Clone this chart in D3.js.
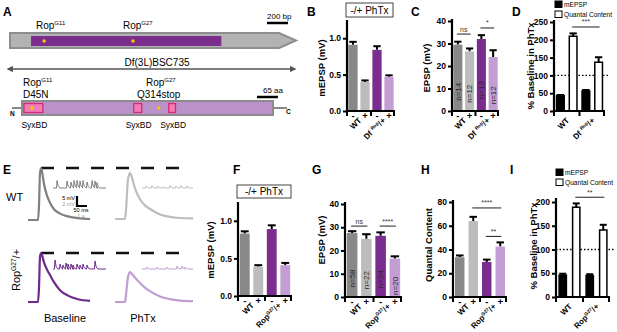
<!DOCTYPE html>
<html>
<head>
<meta charset="utf-8">
<script src="https://cdn.jsdelivr.net/npm/d3@7"></script>
<style>
  body { margin: 0; background: #fff; }
  svg { display: block; font-family: "Liberation Sans", Arial, Helvetica, sans-serif; }
</style>
</head>
<body>
<div id="fig"></div>
<script>
// ---- data ----
const conditions = ["-", "+", "-", "+"];

const mepspB = [0.91, 0.40, 0.84, 0.47];
const mepspBErr = [0.04, 0.02, 0.05, 0.02];
const epspC = [29.5, 26.5, 32.0, 24.0];
const epspCErr = [1.3, 1.3, 1.7, 3.0];
const epspCN = ["n=14", "n=12", "n=13", "n=12"];
const pctD = [43, 210, 56, 137];
const pctDErr = [2, 8, 3, 14];

const mepspF = [0.83, 0.39, 0.89, 0.41];
const mepspFErr = [0.03, 0.02, 0.05, 0.03];
const epspG = [27.5, 25.0, 26.3, 16.5];
const epspGErr = [0.8, 2.0, 1.5, 1.0];
const epspGN = ["n=58", "n=22", "n=24", "n=20"];
const qcH = [33.5, 64.0, 29.5, 42.5];
const qcHErr = [1.5, 3.5, 2.0, 3.5];
const pctI = [46, 189, 45, 141];
const pctIErr = [3, 8, 3, 11];

const ticksMepsp = [0, 0.5, 1.0];
const ticksEpsp = [0, 10, 20, 30, 40];
const ticksPctD = [0, 50, 100, 150, 200, 250];
const ticksPctI = [0, 50, 100, 150, 200];
const ticksQC = [0, 20, 40, 60, 80];

// gene / protein diagram (bp and aa)
const geneLength = 2720, geneArrowStart = 2560;
const geneCds = [200, 2010];
const geneMutations = [325, 1170];
const proteinLength = 780;
const syxbdDomains = [[6, 65], [347, 372], [456, 477]];
const proteinMutations = [31, 425];

// EPSP traces (ms, mV)
const timeBase = [0, 50, 55, 60, 65, 70, 80, 95, 110, 130, 160, 200, 250, 310];
const timePhtx = [0, 50, 55, 65, 75, 85, 100, 125, 150, 175, 225, 275, 325, 390];
const wtBase = [0, 0, 7.2, 23.4, 26, 24.3, 18, 12.2, 8.6, 5.4, 3.2, 1.8, 0.9, 0.5];
const wtPhtx = [0, 0, 4.5, 19.8, 23, 20.7, 15.3, 9.9, 6.8, 5, 2.3, 1.1, 0.5, 0.3];
const ropBase = [0, 0, 7.2, 22.5, 24.5, 23.4, 19.8, 16.2, 13.5, 9.9, 5.9, 3.2, 1.4, 0.6];
const ropPhtx = [0, 0, 3.6, 12.6, 15, 14, 12.2, 9.5, 7.2, 5.4, 2.7, 1.4, 0.7, 0.4];

// spontaneous minis (s, mV)
const miniWtBaseT = [0.4, 1.4, 1.8, 2.1, 2.4, 2.7, 3.0, 3.4, 3.9, 4.2, 4.4];
const miniWtBaseA = [1.5, 1.4, 1.2, 1.5, 1.5, 1.4, 1.5, 1.2, 1.5, 1.4, 1.1];
const miniWtPhtxT = [0.4, 1.0, 1.6, 2.1, 2.8, 3.4, 3.9, 4.5];
const miniWtPhtxA = [0.4, 0.5, 0.4, 0.3, 0.5, 0.4, 0.5, 0.4];
const miniRopBaseT = [0.2, 0.7, 1.0, 1.3, 1.5, 1.8, 2.0, 2.4, 2.7, 3.0, 3.4, 4.2];
const miniRopBaseA = [1.8, 1.0, 0.8, 1.2, 1.0, 1.0, 0.8, 1.0, 0.8, 1.0, 0.8, 1.6];
const miniRopPhtxT = [0.5, 1.5, 2.5, 3.5, 4.0, 4.3];
const miniRopPhtxA = [0.4, 0.4, 0.4, 0.6, 0.6, 0.4];

const genoFill = ["#888888", "#bcbcbc", "#7b2d8f", "#c39dd3"];
const pctFill = ["#000", "#fff", "#000", "#fff"];

const svg = d3.select("#fig").append("svg")
    .attr("width", 617)
    .attr("height", 332);

function letter(t, x, y) {
    svg.append("text").attr("x", x).attr("y", y)
        .attr("font-size", 12).attr("font-weight", "bold").text(t);
}

// text with a superscript part: parts = [[string, isSup], ...]
function richText(sel, parts, size) {
    parts.forEach(([s, sup], i) => {
        const prevSup = i > 0 && parts[i - 1][1];
        const ts = sel.append("tspan").text(s);
        if (sup) ts.attr("font-size", size * 0.6).attr("dy", -size * 0.38);
        else if (prevSup) ts.attr("dy", size * 0.38);
    });
    return sel;
}

// ---- bar panels ----
function barPanel(o) {
    const g = svg.append("g");
    const y = d3.scaleLinear().domain([0, o.max]).range([o.y0, o.yMax]);
    const x = d3.scaleBand().domain(d3.range(o.values.length))
        .range([o.x0, o.x1]).paddingInner(o.pad).paddingOuter(o.pad / 2);
    const bw = x.bandwidth();

    if (o.dotted != null) {
        g.append("line")
            .attr("x1", o.x0).attr("x2", o.x1 + 4)
            .attr("y1", y(o.dotted)).attr("y2", y(o.dotted))
            .attr("stroke", "#000").attr("stroke-width", 1.3)
            .attr("stroke-dasharray", "1.5,2");
    }

    // error bars (upper only)
    g.selectAll(".err").data(o.values).join("g").each(function (d, i) {
        const e = d3.select(this);
        const cx = x(i) + bw / 2;
        e.append("line").attr("x1", cx).attr("x2", cx)
            .attr("y1", y(d)).attr("y2", y(d + o.errs[i]))
            .attr("stroke", "#000").attr("stroke-width", 2);
        e.append("line").attr("x1", cx - bw * 0.4).attr("x2", cx + bw * 0.4)
            .attr("y1", y(d + o.errs[i])).attr("y2", y(d + o.errs[i]))
            .attr("stroke", "#000").attr("stroke-width", 2);
    });

    g.selectAll(".bar").data(o.values).join("rect")
        .attr("x", (d, i) => x(i) + (o.strokes ? 0.75 : 0))
        .attr("width", bw - (o.strokes ? 1.5 : 0))
        .attr("y", d => y(d))
        .attr("height", d => o.y0 - y(d))
        .attr("fill", (d, i) => o.fills[i])
        .attr("stroke", o.strokes ? "#000" : "none")
        .attr("stroke-width", 1.5);

    // n labels inside bars
    if (o.nLabels) {
        g.selectAll(".n").data(o.nLabels).join("text")
            .attr("transform", (d, i) => {
                const h = o.y0 - y(o.values[i]);
                const cy = o.y0 - Math.min(o.nOffset, h * 0.29);
                return `translate(${x(i) + bw / 2 + 2.8},${cy}) rotate(-90)`;
            })
            .attr("text-anchor", "middle")
            .attr("font-size", 8)
            .attr("fill", "#262626")
            .text(d => d);
    }

    // y axis
    g.append("line").attr("x1", o.x0).attr("x2", o.x0)
        .attr("y1", o.y0 + 1).attr("y2", o.axisTop)
        .attr("stroke", "#000").attr("stroke-width", 2.2);
    const ax = g.append("g").attr("transform", `translate(${o.x0},0)`)
        .call(d3.axisLeft(y).tickValues(o.ticks).tickSize(4).tickPadding(2)
            .tickFormat(o.fmt));
    ax.select(".domain").remove();
    ax.selectAll(".tick line").attr("stroke", "#000").attr("stroke-width", 2);
    ax.selectAll(".tick text").attr("font-size", 8.5).attr("font-weight", "bold")
        .attr("font-family", '"Liberation Sans", Arial, sans-serif').attr("fill", "#000");

    // x axis
    g.append("line").attr("x1", o.x0 - 1).attr("x2", o.x1)
        .attr("y1", o.y0).attr("y2", o.y0)
        .attr("stroke", "#000").attr("stroke-width", 2.2);
    [o.x0, (o.x0 + o.x1) / 2, o.x1 - 1].forEach(tx => {
        g.append("line").attr("x1", tx).attr("x2", tx)
            .attr("y1", o.y0).attr("y2", o.y0 + 5)
            .attr("stroke", "#000").attr("stroke-width", 2);
    });
    if (o.signs) {
        g.selectAll(".sign").data(o.signs).join("text")
            .attr("x", (d, i) => x(i) + bw / 2).attr("y", o.y0 + 8)
            .attr("text-anchor", "middle").attr("font-size", 9.5)
            .attr("font-weight", "bold").text(d => d);
    }

    // group labels, rotated
    o.groups.forEach((parts, k) => {
        const cx = (x(2 * k) + x(2 * k + 1) + bw) / 2 + 3;
        const t = g.append("text")
            .attr("transform", `translate(${cx},${o.y0 + 10}) rotate(-45)`)
            .attr("text-anchor", "end").attr("font-size", 8)
            .attr("font-weight", "bold");
        richText(t, parts, 8);
    });

    // significance bars
    (o.sig || []).forEach(s => {
        const xa = x(s.a) + bw / 2, xb = x(s.b) + bw / 2;
        g.append("line").attr("x1", xa - 1).attr("x2", xb + 1)
            .attr("y1", y(s.v)).attr("y2", y(s.v))
            .attr("stroke", "#333").attr("stroke-width", 1.1);
        g.append("text").attr("x", (xa + xb) / 2).attr("y", y(s.v) - 2.5)
            .attr("text-anchor", "middle").attr("font-size", 7)
            .attr("fill", "#333").text(s.t);
    });

    // y label
    g.append("text")
        .attr("transform", `translate(${o.labelX},${o.labelY}) rotate(-90)`)
        .attr("text-anchor", "middle").attr("font-size", 9.5)
        .attr("font-weight", "bold").text(o.label);

    if (o.box) {
        g.append("rect").attr("x", o.box[0]).attr("y", o.box[1])
            .attr("width", o.box[2]).attr("height", o.box[3])
            .attr("fill", "#fff").attr("stroke", "#444").attr("stroke-width", 1);
        g.append("text").attr("x", o.box[0] + o.box[2] / 2).attr("y", o.box[1] + o.box[3] - 3.5)
            .attr("text-anchor", "middle").attr("font-size", 10).text("-/+ PhTx");
    }

    if (o.legend) {
        const [lx, ly] = o.legend;
        [["#000", "mEPSP"], ["#fff", "Quantal Content"]].forEach(([c, t], i) => {
            g.append("rect").attr("x", lx).attr("y", ly + i * 10)
                .attr("width", 7).attr("height", 6.5)
                .attr("fill", c).attr("stroke", "#000").attr("stroke-width", 1);
            g.append("text").attr("x", lx + 9).attr("y", ly + i * 10 + 6)
                .attr("font-size", 6.6).text(t);
        });
    }
}

const wtLab = [["WT", false]];
const dfLab = [["Df ", false], ["Rop", true], ["/+", false]];
const ropLab = [["Rop", false], ["G27", true], ["/+", false]];
const fmt1 = d3.format(".1f");
const fmt0 = d3.format("d");

barPanel({ values: mepspB, errs: mepspBErr, fills: genoFill, max: 1.25, y0: 111, yMax: 20,
    axisTop: 20, x0: 347, x1: 395, pad: 0.23, ticks: ticksMepsp, fmt: fmt1,
    signs: conditions, groups: [wtLab, dfLab], label: "mEPSP (mV)", labelX: 325, labelY: 68,
    box: [346, 3, 47, 14] });

barPanel({ values: epspC, errs: epspCErr, fills: genoFill, max: 40, y0: 111, yMax: 21,
    axisTop: 19, x0: 452, x1: 499, pad: 0.23, ticks: ticksEpsp, fmt: fmt0,
    signs: conditions, groups: [wtLab, dfLab], label: "EPSP (mV)", labelX: 430, labelY: 68,
    nLabels: epspCN, nOffset: 34,
    sig: [{ a: 0, b: 1, v: 34.2, t: "ns" }, { a: 2, b: 3, v: 36.9, t: "*" }] });

barPanel({ values: pctD, errs: pctDErr, fills: pctFill, strokes: true, max: 250, y0: 111, yMax: 22,
    axisTop: 20, x0: 554, x1: 605, pad: 0.28, ticks: ticksPctD, fmt: fmt0,
    groups: [wtLab, dfLab], label: "% Baseline in PhTx", labelX: 534, labelY: 66,
    dotted: 100, sig: [{ a: 1, b: 3, v: 236, t: "***" }], legend: [555, 1] });

barPanel({ values: mepspF, errs: mepspFErr, fills: genoFill, max: 1.25, y0: 296, yMax: 202,
    axisTop: 202, x0: 238, x1: 292, pad: 0.27, ticks: ticksMepsp, fmt: fmt1,
    signs: conditions, groups: [wtLab, ropLab], label: "mEPSP (mV)", labelX: 214, labelY: 250,
    box: [237, 185, 54, 13] });

barPanel({ values: epspG, errs: epspGErr, fills: genoFill, max: 40, y0: 297, yMax: 204,
    axisTop: 202, x0: 345, x1: 402, pad: 0.26, ticks: ticksEpsp, fmt: fmt0,
    signs: conditions, groups: [wtLab, ropLab], label: "EPSP (mV)", labelX: 325, labelY: 240,
    nLabels: epspGN, nOffset: 21,
    sig: [{ a: 0, b: 1, v: 30.5, t: "ns" }, { a: 2, b: 3, v: 30.5, t: "****" }] });

barPanel({ values: qcH, errs: qcHErr, fills: genoFill, max: 80, y0: 297, yMax: 202,
    axisTop: 200, x0: 453, x1: 507, pad: 0.3, ticks: ticksQC, fmt: fmt0,
    signs: conditions, groups: [wtLab, ropLab], label: "Quantal Content", labelX: 432, labelY: 245,
    sig: [{ a: 1, b: 3, v: 75, t: "****" }, { a: 2, b: 3, v: 51, t: "**" }] });

barPanel({ values: pctI, errs: pctIErr, fills: pctFill, strokes: true, max: 200, y0: 297, yMax: 202,
    axisTop: 198, x0: 556, x1: 610, pad: 0.35, ticks: ticksPctI, fmt: fmt0,
    groups: [wtLab, ropLab], label: "% Baseline in PhTx", labelX: 537, labelY: 246,
    dotted: 100, sig: [{ a: 1, b: 3, v: 210, t: "**" }], legend: [556, 169] });

// ---- panel A: gene and protein ----
const gx = d3.scaleLinear().domain([0, geneLength]).range([10, 296]);
const gTop = 33, gBot = 48, gMid = (gTop + gBot) / 2;
svg.append("path")
    .attr("d", d3.line()([[gx(0), gTop], [gx(geneArrowStart), gTop], [gx(geneLength), gMid],
        [gx(geneArrowStart), gBot], [gx(0), gBot]]) + "Z")
    .attr("fill", "#b3b3b3").attr("stroke", "#8e8e8e").attr("stroke-width", 2);
svg.append("rect").attr("x", gx(geneCds[0])).attr("width", gx(geneCds[1]) - gx(geneCds[0]))
    .attr("y", 36).attr("height", 10).attr("fill", "#7b2d8e");
svg.selectAll(".gmut").data(geneMutations).join("circle")
    .attr("cx", d => gx(d)).attr("cy", 41).attr("r", 1.8).attr("fill", "#f6c700");

richText(svg.append("text").attr("x", 36).attr("y", 29).attr("font-size", 10), [["Rop", false], ["G11", true]], 10);
richText(svg.append("text").attr("x", 123).attr("y", 29).attr("font-size", 10), [["Rop", false], ["G27", true]], 10);
svg.append("text").attr("x", 267).attr("y", 19).attr("font-size", 8).text("200 bp");
svg.append("line").attr("x1", 267).attr("x2", 267 + gx(200) - gx(0))
    .attr("y1", 23).attr("y2", 23).attr("stroke", "#000").attr("stroke-width", 2.5);

svg.append("text").attr("x", 157).attr("y", 66).attr("text-anchor", "middle")
    .attr("font-size", 10).text("Df(3L)BSC735");
const defs = svg.append("defs");
defs.append("marker").attr("id", "ah").attr("viewBox", "0 0 10 10").attr("refX", 8).attr("refY", 5)
    .attr("markerWidth", 4).attr("markerHeight", 4).attr("orient", "auto-start-reverse")
    .append("path").attr("d", "M0,0L10,5L0,10z").attr("fill", "#555");
svg.append("line").attr("x1", 8).attr("x2", 295).attr("y1", 69).attr("y2", 69)
    .attr("stroke", "#555").attr("stroke-width", 1.6)
    .attr("marker-start", "url(#ah)").attr("marker-end", "url(#ah)");

const px = d3.scaleLinear().domain([0, proteinLength]).range([22, 273]);
richText(svg.append("text").attr("x", 23).attr("y", 86).attr("font-size", 10), [["Rop", false], ["G11", true]], 10);
svg.append("text").attr("x", 23).attr("y", 98).attr("font-size", 10).text("D45N");
richText(svg.append("text").attr("x", 146).attr("y", 86).attr("font-size", 10), [["Rop", false], ["G27", true]], 10);
svg.append("text").attr("x", 137).attr("y", 98).attr("font-size", 10).text("Q314stop");
svg.append("text").attr("x", 263).attr("y", 93).attr("font-size", 8).text("65 aa");
svg.append("line").attr("x1", 257).attr("x2", 257 + px(65) - px(0))
    .attr("y1", 97).attr("y2", 97).attr("stroke", "#000").attr("stroke-width", 2.5);

svg.append("line").attr("x1", 12).attr("x2", 287).attr("y1", 108).attr("y2", 108)
    .attr("stroke", "#888").attr("stroke-width", 2);
svg.append("rect").attr("x", px(0)).attr("width", px(proteinLength) - px(0))
    .attr("y", 101).attr("height", 14).attr("fill", "#bb91c9")
    .attr("stroke", "#8c8c8c").attr("stroke-width", 2);
svg.selectAll(".syx").data(syxbdDomains).join("rect")
    .attr("x", d => px(d[0])).attr("width", d => px(d[1]) - px(d[0]))
    .attr("y", 103.5).attr("height", 9).attr("fill", "#f07cb8")
    .attr("stroke", "#d62b72").attr("stroke-width", 1.3);
svg.selectAll(".pmut").data(proteinMutations).join("circle")
    .attr("cx", d => px(d)).attr("cy", 108).attr("r", 1.8).attr("fill", "#f6c700");
svg.append("text").attr("x", 10).attr("y", 116).attr("font-size", 6.5).attr("font-weight", "bold").text("N");
svg.append("text").attr("x", 286).attr("y", 114).attr("font-size", 6.5).attr("font-weight", "bold").text("C");
svg.selectAll(".syxl").data(syxbdDomains).join("text")
    .attr("x", d => (px(d[0]) + px(d[1])) / 2 + 1).attr("y", 128)
    .attr("text-anchor", "middle").attr("font-size", 8.5).text("SyxBD");

// ---- panel E: traces ----
const tx = d3.scaleLinear().domain([0, 50]).range([0, 10]);     // 50 ms = 10 px
const vy = d3.scaleLinear().domain([0, 5]).range([0, -10]);     // 5 mV = 10 px
const mx = d3.scaleLinear().domain([0, 1]).range([0, 10]);      // 1 s = 10 px
const my = d3.scaleLinear().domain([0, 2]).range([0, -10]);     // 2 mV = 10 px

function epsp(times, volts, ox, oy, color) {
    const line = d3.line().x(d => ox + tx(d[0])).y(d => oy + vy(d[1])).curve(d3.curveMonotoneX);
    svg.append("path").attr("d", line(d3.zip(times, volts)))
        .attr("fill", "none").attr("stroke", color).attr("stroke-width", 2.2);
}
function minis(ts, as, len, ox, oy, color) {
    const pts = [[0, 0]];
    ts.forEach((t, i) => {
        pts.push([t - 0.05, 0], [t, as[i]], [t + 0.12, as[i] * 0.25], [t + 0.3, 0]);
    });
    pts.push([len, 0]);
    const line = d3.line().x(d => ox + mx(d[0])).y(d => oy + my(d[1]));
    svg.append("path").attr("d", line(pts))
        .attr("fill", "none").attr("stroke", color).attr("stroke-width", 1);
}
function dashRef(peak, oy) {
    svg.append("line").attr("x1", 41).attr("x2", 181)
        .attr("y1", oy + vy(peak)).attr("y2", oy + vy(peak))
        .attr("stroke", "#111").attr("stroke-width", 2.3).attr("stroke-dasharray", "13,12");
}

dashRef(d3.max(wtBase), 220);
epsp(timeBase, wtBase, 28, 220, "#808080");
epsp(timePhtx, wtPhtx, 115, 219, "#bdbdbd");
minis(miniWtBaseT, miniWtBaseA, 5.3, 53, 188, "#808080");
minis(miniWtPhtxT, miniWtPhtxA, 5.1, 142, 188, "#bdbdbd");

dashRef(d3.max(ropBase), 302);
epsp(timeBase, ropBase, 28, 302, "#6e2a8a");
epsp(timePhtx, ropPhtx, 115, 302, "#c29dd2");
minis(miniRopBaseT, miniRopBaseA, 5.3, 53, 269, "#6e2a8a");
minis(miniRopPhtxT, miniRopPhtxA, 5.1, 142, 269, "#c29dd2");

// scale bar
svg.append("path").attr("d", `M77,${196}V${206}H87`)
    .attr("fill", "none").attr("stroke", "#000").attr("stroke-width", 2.2);
svg.append("text").attr("x", 75).attr("y", 200).attr("text-anchor", "end").attr("font-size", 5.5).text("5 mV");
svg.append("text").attr("x", 75).attr("y", 205.5).attr("text-anchor", "end").attr("font-size", 5.5).attr("fill", "#999").text("2 mV");
svg.append("text").attr("x", 81).attr("y", 212).attr("text-anchor", "middle").attr("font-size", 5.5).text("50 ms");
svg.append("text").attr("x", 81).attr("y", 217.5).attr("text-anchor", "middle").attr("font-size", 5.5).attr("fill", "#999").text("1 s");

svg.append("text").attr("x", 6).attr("y", 201).attr("font-size", 11).text("WT");
richText(svg.append("text").attr("transform", "translate(20,270) rotate(-90)")
    .attr("text-anchor", "middle").attr("font-size", 11), [["Rop", false], ["G27", true], ["/+", false]], 11);
svg.append("text").attr("x", 65).attr("y", 322).attr("text-anchor", "middle").attr("font-size", 11).text("Baseline");
svg.append("text").attr("x", 143).attr("y", 322).attr("text-anchor", "middle").attr("font-size", 11).text("PhTx");

letter("A", 3, 16); letter("B", 307, 16); letter("C", 411, 16); letter("D", 512, 16);
letter("E", 3, 174); letter("F", 233, 174); letter("G", 312, 174); letter("H", 421, 174); letter("I", 510, 174);
</script>
</body>
</html>
